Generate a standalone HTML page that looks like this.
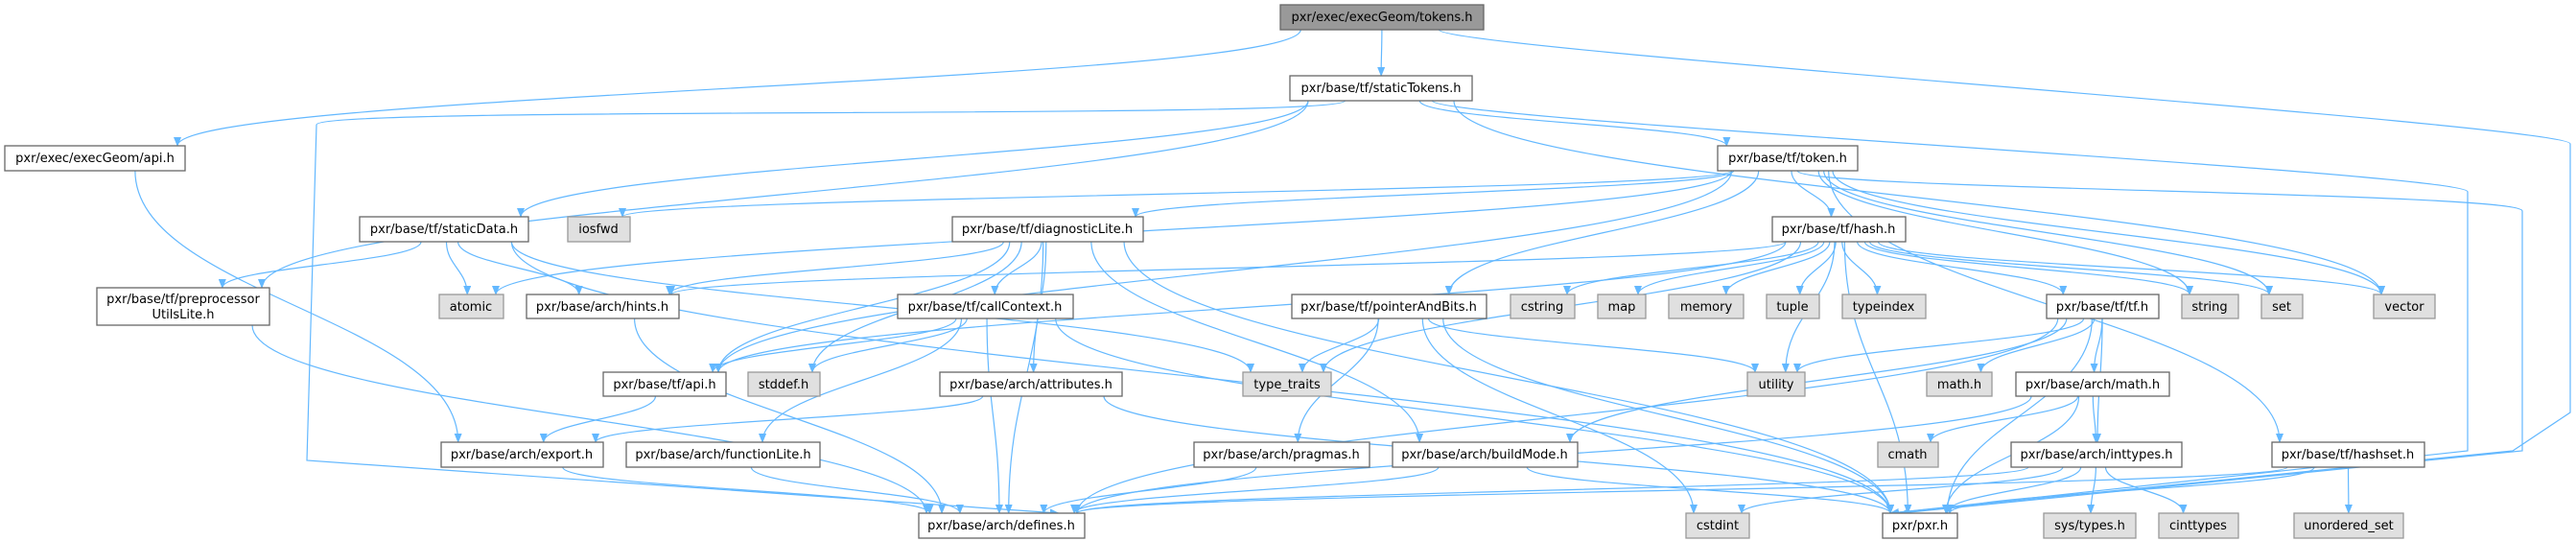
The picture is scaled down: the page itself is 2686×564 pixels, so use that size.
<!DOCTYPE html>
<html><head><meta charset="utf-8"><style>
html,body{margin:0;padding:0;background:#fff;}
svg{display:block;}
text{font-family:"DejaVu Sans","Liberation Sans",sans-serif;font-size:13px;fill:#000;}
</style></head><body>
<svg id="g" width="2686" height="564" viewBox="0 0 2686 564" xmlns="http://www.w3.org/2000/svg">
<defs><marker id="ah" markerWidth="10" markerHeight="8" refX="9" refY="4" orient="auto" markerUnits="userSpaceOnUse"><path d="M0,0 L10,4 L0,8 z" fill="#63b8ff"/></marker></defs>
<g id="edges" fill="none" stroke="#63b8ff" stroke-width="1.2"></g>
<g id="nodes" stroke-width="1.3">
<rect x="1335" y="5" width="212" height="26" fill="#999" stroke="#666"/><text x="1441" y="22" text-anchor="middle">pxr/exec/execGeom/tokens.h</text>
<rect x="1345" y="79" width="190" height="26" fill="#fff" stroke="#666"/><text x="1440" y="96" text-anchor="middle">pxr/base/tf/staticTokens.h</text>
<rect x="5" y="152" width="188" height="26" fill="#fff" stroke="#666"/><text x="99" y="169" text-anchor="middle">pxr/exec/execGeom/api.h</text>
<rect x="1791" y="152" width="146" height="26" fill="#fff" stroke="#666"/><text x="1864" y="169" text-anchor="middle">pxr/base/tf/token.h</text>
<rect x="375" y="226" width="176" height="26" fill="#fff" stroke="#666"/><text x="463" y="243" text-anchor="middle">pxr/base/tf/staticData.h</text>
<rect x="592" y="226" width="65" height="26" fill="#e0e0e0" stroke="#999"/><text x="624" y="243" text-anchor="middle">iosfwd</text>
<rect x="993" y="226" width="199" height="26" fill="#fff" stroke="#666"/><text x="1092" y="243" text-anchor="middle">pxr/base/tf/diagnosticLite.h</text>
<rect x="1848" y="226" width="139" height="26" fill="#fff" stroke="#666"/><text x="1917" y="243" text-anchor="middle">pxr/base/tf/hash.h</text>
<rect x="101" y="300" width="180" height="39" fill="#fff" stroke="#666"/><text x="191" y="316" text-anchor="middle">pxr/base/tf/preprocessor</text><text x="191" y="332" text-anchor="middle">UtilsLite.h</text>
<rect x="458" y="307" width="67" height="25" fill="#e0e0e0" stroke="#999"/><text x="491" y="324" text-anchor="middle">atomic</text>
<rect x="549" y="307" width="159" height="25" fill="#fff" stroke="#666"/><text x="628" y="324" text-anchor="middle">pxr/base/arch/hints.h</text>
<rect x="936" y="307" width="183" height="25" fill="#fff" stroke="#666"/><text x="1027" y="324" text-anchor="middle">pxr/base/tf/callContext.h</text>
<rect x="1347" y="307" width="203" height="25" fill="#fff" stroke="#666"/><text x="1448" y="324" text-anchor="middle">pxr/base/tf/pointerAndBits.h</text>
<rect x="1575" y="307" width="67" height="25" fill="#e0e0e0" stroke="#999"/><text x="1608" y="324" text-anchor="middle">cstring</text>
<rect x="1666" y="307" width="50" height="25" fill="#e0e0e0" stroke="#999"/><text x="1691" y="324" text-anchor="middle">map</text>
<rect x="1740" y="307" width="78" height="25" fill="#e0e0e0" stroke="#999"/><text x="1779" y="324" text-anchor="middle">memory</text>
<rect x="1842" y="307" width="55" height="25" fill="#e0e0e0" stroke="#999"/><text x="1869" y="324" text-anchor="middle">tuple</text>
<rect x="1921" y="307" width="87" height="25" fill="#e0e0e0" stroke="#999"/><text x="1964" y="324" text-anchor="middle">typeindex</text>
<rect x="2134" y="307" width="117" height="25" fill="#fff" stroke="#666"/><text x="2192" y="324" text-anchor="middle">pxr/base/tf/tf.h</text>
<rect x="2275" y="307" width="59" height="25" fill="#e0e0e0" stroke="#999"/><text x="2304" y="324" text-anchor="middle">string</text>
<rect x="2358" y="307" width="43" height="25" fill="#e0e0e0" stroke="#999"/><text x="2379" y="324" text-anchor="middle">set</text>
<rect x="2475" y="307" width="64" height="25" fill="#e0e0e0" stroke="#999"/><text x="2507" y="324" text-anchor="middle">vector</text>
<rect x="629" y="388" width="128" height="25" fill="#fff" stroke="#666"/><text x="693" y="405" text-anchor="middle">pxr/base/tf/api.h</text>
<rect x="780" y="388" width="75" height="25" fill="#e0e0e0" stroke="#999"/><text x="817" y="405" text-anchor="middle">stddef.h</text>
<rect x="980" y="388" width="190" height="25" fill="#fff" stroke="#666"/><text x="1075" y="405" text-anchor="middle">pxr/base/arch/attributes.h</text>
<rect x="1296" y="388" width="92" height="25" fill="#e0e0e0" stroke="#999"/><text x="1342" y="405" text-anchor="middle">type_traits</text>
<rect x="1822" y="388" width="60" height="25" fill="#e0e0e0" stroke="#999"/><text x="1852" y="405" text-anchor="middle">utility</text>
<rect x="2009" y="388" width="68" height="25" fill="#e0e0e0" stroke="#999"/><text x="2043" y="405" text-anchor="middle">math.h</text>
<rect x="2102" y="388" width="160" height="25" fill="#fff" stroke="#666"/><text x="2182" y="405" text-anchor="middle">pxr/base/arch/math.h</text>
<rect x="460" y="461" width="169" height="26" fill="#fff" stroke="#666"/><text x="544" y="478" text-anchor="middle">pxr/base/arch/export.h</text>
<rect x="653" y="461" width="202" height="26" fill="#fff" stroke="#666"/><text x="754" y="478" text-anchor="middle">pxr/base/arch/functionLite.h</text>
<rect x="1245" y="461" width="183" height="26" fill="#fff" stroke="#666"/><text x="1336" y="478" text-anchor="middle">pxr/base/arch/pragmas.h</text>
<rect x="1452" y="461" width="193" height="26" fill="#fff" stroke="#666"/><text x="1548" y="478" text-anchor="middle">pxr/base/arch/buildMode.h</text>
<rect x="1958" y="461" width="63" height="26" fill="#e0e0e0" stroke="#999"/><text x="1989" y="478" text-anchor="middle">cmath</text>
<rect x="2097" y="461" width="178" height="26" fill="#fff" stroke="#666"/><text x="2186" y="478" text-anchor="middle">pxr/base/arch/inttypes.h</text>
<rect x="2369" y="461" width="159" height="26" fill="#fff" stroke="#666"/><text x="2448" y="478" text-anchor="middle">pxr/base/tf/hashset.h</text>
<rect x="958" y="535" width="173" height="26" fill="#fff" stroke="#666"/><text x="1044" y="552" text-anchor="middle">pxr/base/arch/defines.h</text>
<rect x="1758" y="535" width="66" height="26" fill="#e0e0e0" stroke="#999"/><text x="1791" y="552" text-anchor="middle">cstdint</text>
<rect x="1963" y="535" width="78" height="26" fill="#fff" stroke="#666"/><text x="2002" y="552" text-anchor="middle">pxr/pxr.h</text>
<rect x="2131" y="535" width="96" height="26" fill="#e0e0e0" stroke="#999"/><text x="2179" y="552" text-anchor="middle">sys/types.h</text>
<rect x="2251" y="535" width="83" height="26" fill="#e0e0e0" stroke="#999"/><text x="2292" y="552" text-anchor="middle">cinttypes</text>
<rect x="2392" y="535" width="114" height="26" fill="#e0e0e0" stroke="#999"/><text x="2449" y="552" text-anchor="middle">unordered_set</text>
</g>
</svg>
<script>
var N={
tok:[1335,5,1547,31],st:[1345,79,1535,105],api:[5,152,193,178],token:[1791,152,1937,178],
sd:[375,226,551,252],iosfwd:[592,226,657,252],dl:[993,226,1192,252],hash:[1848,226,1987,252],
pp:[101,300,281,339],atomic:[458,307,525,332],hints:[549,307,708,332],cc:[936,307,1119,332],
pab:[1347,307,1550,332],cstring:[1575,307,1642,332],map:[1666,307,1716,332],memory:[1740,307,1818,332],
tuple:[1842,307,1897,332],typeindex:[1921,307,2008,332],tf:[2134,307,2251,332],string:[2275,307,2334,332],
set:[2358,307,2401,332],vector:[2475,307,2539,332],tfapi:[629,388,757,413],stddef:[780,388,855,413],
attr:[980,388,1170,413],tt:[1296,388,1388,413],utility:[1822,388,1882,413],mathh:[2009,388,2077,413],
amath:[2102,388,2262,413],exp:[460,461,629,487],fl:[653,461,855,487],prag:[1245,461,1428,487],
bm:[1452,461,1645,487],cmath:[1958,461,2021,487],it:[2097,461,2275,487],hs:[2369,461,2528,487],
def:[958,535,1131,561],cstdint:[1758,535,1824,561],pxr:[1963,535,2041,561],sys:[2131,535,2227,561],
cint:[2251,535,2334,561],us:[2392,535,2506,561]};
var E=[
['tok','api'],['tok','st'],['tok','pxr',[[2680,150],[2680,430],[2620,470]]],
['st','pp'],['st','sd'],['st','token'],['st','def',[[330,130],[320,480]]],['st','pxr',[[2573,200],[2573,470]]],['st','vector'],
['token','atomic'],['token','iosfwd'],['token','dl'],['token','hash'],['token','pab'],['token','tfapi'],['token','hs'],
['token','pxr',[[2630,220],[2630,470]]],['token','string'],['token','set'],['token','vector'],
['sd','pp'],['sd','atomic'],['sd','hints'],['sd','tt'],['sd','pxr'],
['dl','cc'],['dl','attr'],['dl','tfapi'],['dl','hints'],['dl','stddef'],['dl','bm'],['dl','def'],['dl','pxr'],
['cc','tfapi'],['cc','stddef'],['cc','fl'],['cc','def'],['cc','pxr'],
['hash','cstring'],['hash','map'],['hash','memory'],['hash','tuple'],['hash','typeindex'],['hash','tf'],
['hash','string'],['hash','set'],['hash','vector'],['hash','utility'],['hash','tt'],['hash','tfapi'],['hash','pxr'],['hash','hints'],
['pab','tt'],['pab','utility'],['pab','prag'],['pab','cstdint'],['pab','pxr'],
['tf','utility'],['tf','mathh'],['tf','amath'],['tf','it'],['tf','bm'],['tf','pxr'],['tf','def'],
['amath','cmath'],['amath','it'],['amath','pxr'],['amath','def'],
['it','sys'],['it','cint'],['it','cstdint'],['it','pxr'],['it','def'],
['hs','us'],['hs','pxr'],['hs','def'],
['api','exp'],['pp','def'],['hints','def'],['tfapi','exp'],['exp','def'],['fl','def'],
['attr','exp'],['attr','pxr'],['prag','def'],['bm','def'],['bm','pxr']
];
function cl(v,a,b){return Math.max(a+8,Math.min(b-8,v));}
var g=document.getElementById('edges'),s='';
E.forEach(function(e){
 var a=N[e[0]],b=N[e[1]];
 var acx=(a[0]+a[2])/2,bcx=(b[0]+b[2])/2;
 var sx,sy,tx,ty,d;
 if(b[1]<=a[1]+5){ // same row
   if(bcx<acx){sx=a[0];tx=b[2];}else{sx=a[2];tx=b[0];}
   sy=(a[1]+a[3])/2;ty=b[1]+4;
   d='M'+sx+','+sy+' L'+tx+','+ty;
 } else {
   sy=a[3];ty=b[1];
   var frac=0.5+0.4*Math.max(-1,Math.min(1,(bcx-acx)/800));
   sx=a[0]+(a[2]-a[0])*frac;
   tx=cl(bcx+(acx-bcx)*0.15,b[0],b[2]);
   if(e[2]){
     d='M'+sx+','+sy;var p=e[2];
     d+=' C'+sx+','+(sy+20)+' '+p[0][0]+','+(p[0][1]-20)+' '+p[0][0]+','+p[0][1];
     for(var i=1;i<p.length;i++)d+=' L'+p[i][0]+','+p[i][1];
     d+=' L'+tx+','+ty;
   } else {
     var dy=ty-sy,k=dy*0.45;
     d='M'+sx+','+sy+' C'+sx+','+(sy+k)+' '+tx+','+(ty-k)+' '+tx+','+ty;
   }
 }
 s+='<path d="'+d+'" marker-end="url(#ah)"/>';
});
g.innerHTML=s;
</script>
</body></html>
